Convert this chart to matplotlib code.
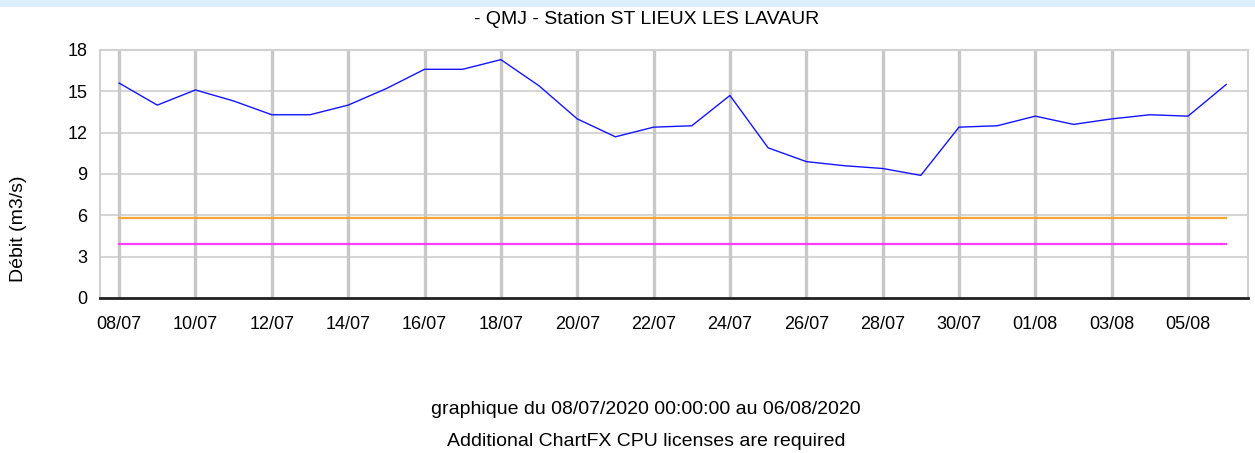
import numpy as np
import matplotlib.pyplot as plt
import matplotlib.patches as mpatches

plt.rcParams["font.family"] = ["Liberation Sans", "DejaVu Sans"]

# daily dates (08/07/2020 -> 06/08/2020)
dates = ["08/07", "09/07", "10/07", "11/07", "12/07", "13/07", "14/07", "15/07",
         "16/07", "17/07", "18/07", "19/07", "20/07", "21/07", "22/07", "23/07",
         "24/07", "25/07", "26/07", "27/07", "28/07", "29/07", "30/07", "31/07",
         "01/08", "02/08", "03/08", "04/08", "05/08", "06/08"]

# QMJ in m3/s
debit = [15.6, 14.0, 15.1, 14.3, 13.3, 13.3, 14.0, 15.2,
         16.6, 16.6, 17.3, 15.4, 13.0, 11.7, 12.4, 12.5,
         14.7, 10.9, 9.9, 9.6, 9.4, 8.9, 12.4, 12.5,
         13.2, 12.6, 13.0, 13.3, 13.2, 15.5]

seuil_orange = [5.8] * len(dates)
seuil_magenta = [3.9] * len(dates)

y_ticks = [0, 3, 6, 9, 12, 15, 18]

fig = plt.figure(figsize=(12.55, 4.53), dpi=100)
fig.patches.append(mpatches.Rectangle((0, 1 - 7 / 453), 1, 7 / 453, transform=fig.transFigure,
                                      facecolor="#dcedfc", edgecolor="none"))

ax = fig.add_axes([100 / 1255, 1 - 298 / 453, 1148 / 1255, 248 / 453])
x = np.arange(len(dates))

ax.plot(x, seuil_orange, color="#f7a531", lw=1.6, zorder=3)
ax.plot(x, seuil_magenta, color="#ff3cff", lw=1.6, zorder=3)
ax.plot(x, debit, color="#1414ff", lw=1.0, zorder=4)

ax.set_xlim(-0.5, len(dates) - 1 + 0.57)
ax.set_ylim(0, 18)
ax.set_yticks(y_ticks)
ax.set_xticks(x[::2])
ax.set_xticklabels(dates[::2])
ax.tick_params(axis="both", length=0, labelsize=13, colors="black")
ax.tick_params(axis="x", pad=13)
ax.tick_params(axis="y", pad=9)

for yv in y_ticks[1:]:
    ax.axhline(yv, color="#d6d6d6", lw=1.5, zorder=1)
for xv in x[::2]:
    ax.axvline(xv, color="#c8c8c8", lw=2.4, zorder=2)

for side in ["top", "right", "left"]:
    ax.spines[side].set_color("#d0d0d0")
    ax.spines[side].set_linewidth(1.5)
ax.spines["bottom"].set_color("#202020")
ax.spines["bottom"].set_linewidth(2.0)

fig.text(19 / 1255, 1 - 229 / 453, "Débit (m3/s)", fontsize=14, rotation=90,
         ha="center", va="center")

fig.text(647 / 1255, 1 - 19 / 453, "- QMJ - Station ST LIEUX LES LAVAUR", fontsize=14,
         ha="center", va="center")
fig.text(646 / 1255, 1 - 409 / 453, "graphique du 08/07/2020 00:00:00 au 06/08/2020", fontsize=14,
         ha="center", va="center")
fig.text(646 / 1255, 1 - 441 / 453, "Additional ChartFX CPU licenses are required", fontsize=14,
         ha="center", va="center")

fig.savefig("out.png", dpi=100)
